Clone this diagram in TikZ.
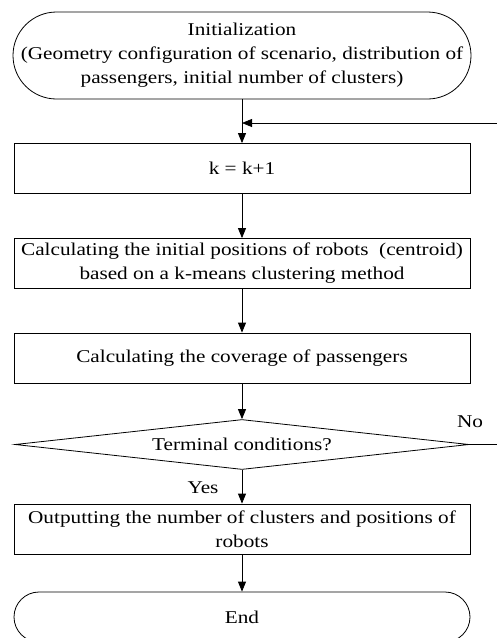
\documentclass[tikz,border=0pt]{standalone}
\usepackage{fontspec}
\setmainfont{Liberation Serif}[FakeStretch=1.18]
\usetikzlibrary{shapes.geometric,arrows.meta}

\tikzset{
  x=1pt, y=1pt,
  every node/.style={font=\fontsize{18}{24}\selectfont, align=center, inner sep=0pt},
  flowline/.style={line width=0.8pt, draw=black},
  flowarrow/.style={flowline, -{Triangle[length=10pt,width=8pt]}},
  procbox/.style={draw, line width=0.8pt, minimum width=456pt, minimum height=50pt},
  terminal/.style={draw, line width=0.8pt, rounded corners=#1},
  decision/.style={draw, line width=0.8pt, diamond, aspect=9, minimum width=454pt, minimum height=50pt},
  lbl/.style={font=\fontsize{18}{24}\selectfont}
}

\begin{document}
\begin{tikzpicture}
\useasboundingbox (0,0) rectangle (497,-638);
\begin{scope}
\clip (0,0) rectangle (497,-638);

% start / end terminals
\node[terminal=43.5pt, minimum width=458pt, minimum height=87pt] (init) at (242,-55.5)
  {Initialization\\(Geometry configuration of scenario, distribution of\\passengers, initial number of clusters)};

% process steps
\node[procbox] (kinc) at (242,-168.5) {k = k+1};
\node[procbox] (kmeans) at (242,-263.5)
  {Calculating the initial positions of robots\ \ (centroid)\\based on a k-means clustering method};
\node[procbox] (cover) at (242,-358) {Calculating the coverage of passengers};
\node[decision] (term) at (242,-444.5) {Terminal conditions?};
\node[procbox] (out) at (242,-529)
  {Outputting the number of clusters and positions of\\robots};
\node[terminal=25pt, minimum width=456pt, minimum height=50pt] (fin) at (242,-617) {End};

% loop-back entry and exit at the right edge
\coordinate (fbin) at (500,-123);
\coordinate (join) at (init.south |- fbin);
\coordinate (noout) at (500,-444.5);

% connectors
\draw[flowline] (init.south) -- (join);
\draw[flowarrow] (join) -- (kinc.north);
\draw[flowarrow] (fbin) -- (join);
\draw[flowarrow] (kinc.south) -- (kmeans.north);
\draw[flowarrow] (kmeans.south) -- (cover.north);
\draw[flowarrow] (cover.south) -- (term.north);
\draw[flowline] (term.east) -- (noout);
\draw[flowarrow] (term.south) -- (out.north);
\draw[flowarrow] (out.south) -- (fin.north);

% branch labels
\node[lbl] at (470,-422) {No};
\node[lbl] at (203,-488) {Yes};
\end{scope}
\end{tikzpicture}
\end{document}
